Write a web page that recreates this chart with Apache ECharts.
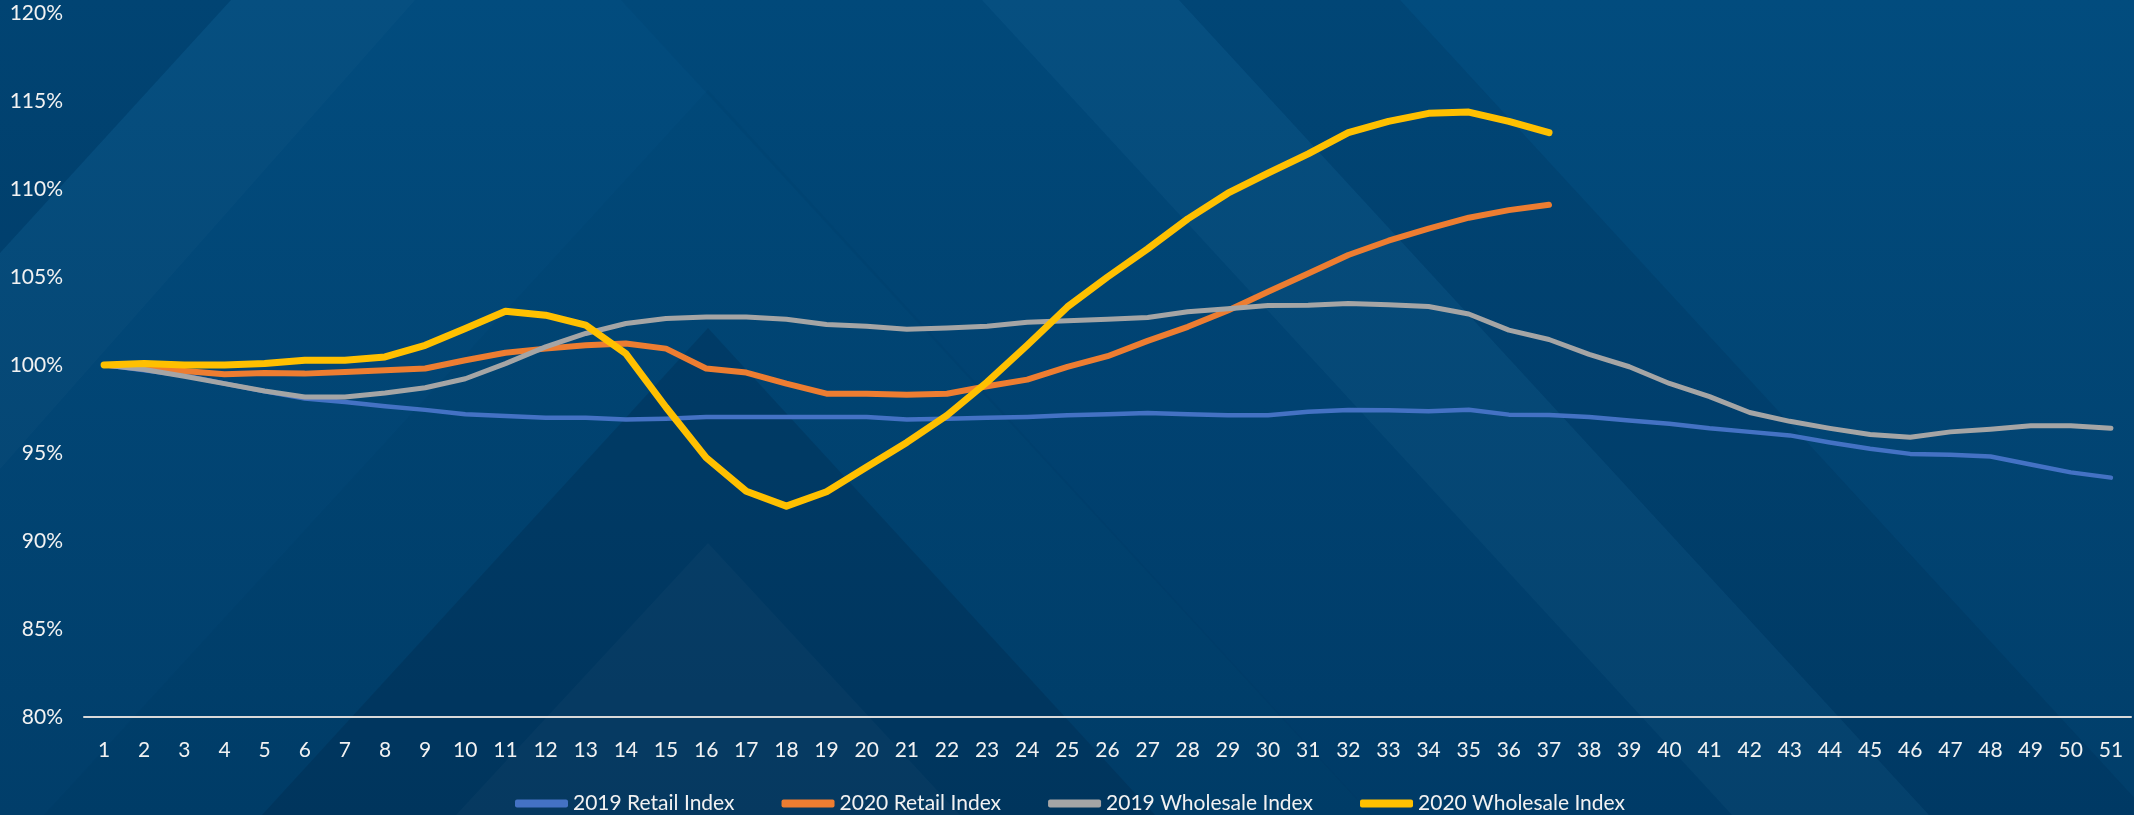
<!DOCTYPE html>
<html>
<head>
<meta charset="utf-8">
<title>Retail / Wholesale Index</title>
<script src="https://cdn.jsdelivr.net/npm/echarts@6.0.0/dist/echarts.min.js"></script>
<style>
  html, body { margin: 0; padding: 0; background: #014577; }
  #chart { width: 2134px; height: 815px; }
</style>
</head>
<body>
<div id="chart"></div>
<script>
// week numbers 1..51
var weeks = ["1","2","3","4","5","6","7","8","9","10","11","12","13","14","15","16","17",
  "18","19","20","21","22","23","24","25","26","27","28","29","30","31","32","33","34",
  "35","36","37","38","39","40","41","42","43","44","45","46","47","48","49","50","51"];

// index values in % of week 1
var retail2019 = [100, 99.7, 99.4, 98.95, 98.5, 98.1, 97.9, 97.65, 97.45, 97.2,
  97.1, 97.0, 97.0, 96.9, 96.95, 97.05, 97.05, 97.05, 97.05, 97.05,
  96.9, 96.95, 97.0, 97.05, 97.15, 97.2, 97.27, 97.2, 97.15, 97.15,
  97.35, 97.45, 97.43, 97.37, 97.46, 97.18, 97.16, 97.05, 96.85, 96.66,
  96.4, 96.2, 96.0, 95.6, 95.24, 94.95, 94.9, 94.8, 94.35, 93.9, 93.6];

var retail2020 = [100, 99.9, 99.66, 99.47, 99.55, 99.51, 99.6, 99.7, 99.8, 100.27,
  100.7, 100.93, 101.12, 101.22, 100.93, 99.8, 99.57, 98.94, 98.37, 98.37,
  98.31, 98.37, 98.79, 99.17, 99.89, 100.5, 101.37, 102.17, 103.1, 104.16,
  105.2, 106.25, 107.06, 107.75, 108.37, 108.8, 109.1];

var wholesale2019 = [100, 99.74, 99.36, 98.94, 98.52, 98.18, 98.18, 98.41, 98.71, 99.22,
  100.08, 101.03, 101.79, 102.36, 102.64, 102.73, 102.73, 102.6, 102.3, 102.2,
  102.03, 102.1, 102.2, 102.43, 102.52, 102.6, 102.7, 103.02, 103.2, 103.38,
  103.4, 103.5, 103.42, 103.32, 102.9, 101.98, 101.45, 100.6, 99.9, 98.95,
  98.2, 97.3, 96.8, 96.4, 96.05, 95.9, 96.2, 96.35, 96.55, 96.55, 96.4];

var wholesale2020 = [100, 100.08, 100.0, 100.0, 100.08, 100.27, 100.27, 100.46, 101.12, 102.07,
  103.05, 102.83, 102.26, 100.65, 97.6, 94.74, 92.83, 91.98, 92.8, 94.2,
  95.6, 97.14, 99.03, 101.12, 103.3, 105.0, 106.6, 108.3, 109.76, 110.9,
  112.0, 113.2, 113.84, 114.3, 114.37, 113.84, 113.2];

var seriesNames = ["2019 Retail Index", "2020 Retail Index", "2019 Wholesale Index", "2020 Wholesale Index"];
var colors = ["#4472C4", "#ED7D31", "#A5A5A5", "#FFC000"];
var widths = [4.5, 6, 5, 7];
var seriesData = [retail2019, retail2020, wholesale2019, wholesale2020];

var fontFamily = "Lato, 'Liberation Sans', sans-serif";

// background: diagonal translucent shapes on a navy fill
function poly(points, fill) {
  return { type: "polygon", silent: true, z: -100, shape: { points: points }, style: { fill: fill } };
}
var bgShapes = [
  {
    type: "rect", silent: true, z: -200,
    shape: { x: 0, y: 0, width: 2134, height: 815 },
    style: {
      fill: new echarts.graphic.LinearGradient(0, 0, 0, 1, [
        { offset: 0, color: "#024c7e" },
        { offset: 1, color: "#013e6a" }
      ])
    }
  },
  poly([[0, 0], [231, 0], [0, 253]], "rgba(0,20,50,0.14)"),
  poly([[231, 0], [415, 0], [0, 469], [0, 253]], "rgba(255,255,255,0.02)"),
  poly([[621, 0], [982, 0], [1732, 815], [1371, 815]], "rgba(0,20,50,0.05)"),
  poly([[982, 0], [1179, 0], [1929, 815], [1732, 815]], "rgba(255,255,255,0.02)"),
  poly([[1179, 0], [1400, 0], [2150, 815], [1929, 815]], "rgba(0,20,50,0.1)"),
  poly([[708, 90], [1372, 815], [44, 815]], "rgba(0,20,50,0.04)"),
  poly([[708, 328], [1155, 815], [262, 815]], "rgba(0,20,50,0.18)"),
  poly([[708, 543], [960, 815], [456, 815]], "rgba(255,255,255,0.025)")
];

var series = [];
for (var i = 0; i < seriesNames.length; i++) {
  series.push({
    name: seriesNames[i],
    type: "line",
    symbol: "none",
    data: seriesData[i],
    lineStyle: { color: colors[i], width: widths[i], cap: "round", join: "round" },
    itemStyle: { color: colors[i] }
  });
}

var option = {
  animation: false,
  color: colors,
  graphic: { elements: bgShapes },
  grid: { left: 84, right: 3, top: 13, bottom: 98 },
  legend: {
    data: seriesNames,
    left: 510,
    top: 788,
    icon: "roundRect",
    itemWidth: 53,
    itemHeight: 8,
    itemGap: 47,
    textStyle: { color: "#f2f2f2", fontSize: 21, fontFamily: fontFamily }
  },
  xAxis: {
    type: "category",
    boundaryGap: true,
    data: weeks,
    axisLine: { lineStyle: { color: "#d9d9d9", width: 2 } },
    axisTick: { show: false },
    axisLabel: { interval: 0, color: "#f2f2f2", fontSize: 21, margin: 23, fontFamily: fontFamily }
  },
  yAxis: {
    type: "value",
    min: 80,
    max: 120,
    interval: 5,
    axisLine: { show: false },
    axisTick: { show: false },
    splitLine: { show: false },
    axisLabel: { formatter: "{value}%", color: "#f2f2f2", fontSize: 21, margin: 21, fontFamily: fontFamily }
  },
  series: series
};

var chart = echarts.init(document.getElementById("chart"));
chart.setOption(option);
</script>
</body>
</html>
